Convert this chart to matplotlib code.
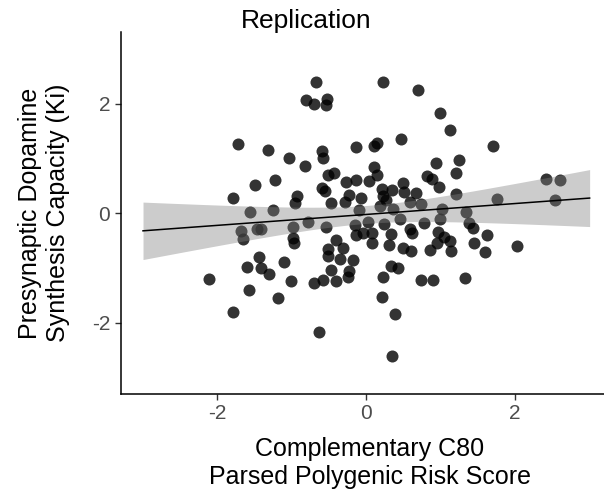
import numpy as np
import matplotlib
matplotlib.use("Agg")
from matplotlib import pyplot as plt

# polygenic risk score (x) vs Ki (y)
prs = [-1.72, -1.32, -1.04, -0.82, -1.49, -1.23, -1.79, -0.93, -0.96, -1.56,
       -1.26, -1.68, -1.66, -1.47, -1.41, -0.98, -0.79, -0.99, -0.97, -1.44,
       -1.60, -1.41, -1.31, -1.10, -2.12, -1.58, -1.01, -0.70, -1.18, -1.79,
       -0.59, -0.58, -0.68, 0.22, 0.69, -0.81, -0.70, -0.53, -0.54, -0.14,
       0.10, 0.14, 0.46, -0.52, -0.44, -0.27, -0.14, 0.04, 0.10, 0.15,
       -0.60, -0.56, -0.47, -0.29, -0.23, -0.07, 0.21, 0.22, 0.26, 0.35,
       0.49, 0.51, 0.67, 0.82, 0.88, 0.98, 0.93, 0.99, 1.12, 1.70,
       1.24, 1.21, 1.21, 2.42, 2.60, 1.75, 2.53, -0.10, 0.18, 0.36,
       0.59, 0.74, 1.02, 1.34, -0.54, -0.15, 0.02, 0.24, 0.45, 0.58,
       0.61, 0.78, 0.99, 1.38, 1.43, 0.96, 1.05, 1.13, 0.95, 0.85,
       1.14, 1.62, 1.44, 1.59, 2.02, 0.74, 0.89, 1.32, -0.14, -0.05,
       0.07, 0.07, 0.33, 0.31, 0.49, 0.60, -0.41, -0.52, -0.32, -0.52,
       -0.36, -0.18, -0.47, -0.23, -0.25, -0.58, -0.41, 0.33, 0.43, 0.22,
       0.21, 0.39, -0.64, 0.34]
ki = [1.26, 1.15, 1.01, 0.86, 0.52, 0.60, 0.27, 0.32, 0.18, 0.02,
      0.05, -0.33, -0.47, -0.30, -0.30, -0.25, -0.17, -0.45, -0.55, -0.81,
      -0.99, -1.01, -1.12, -0.89, -1.21, -1.41, -1.24, -1.28, -1.56, -1.81,
      1.13, 1.00, 2.39, 2.39, 2.24, 2.06, 2.00, 2.09, 1.97, 1.21,
      1.22, 1.28, 1.36, 0.69, 0.74, 0.57, 0.60, 0.59, 0.85, 0.69,
      0.45, 0.41, 0.19, 0.21, 0.33, 0.28, 0.44, 0.31, 0.24, 0.43,
      0.54, 0.38, 0.36, 0.67, 0.62, 0.48, 0.92, 1.83, 1.52, 1.22,
      0.96, 0.73, 0.35, 0.63, 0.60, 0.25, 0.24, 0.06, 0.13, 0.07,
      0.21, 0.17, 0.08, 0.02, -0.26, -0.21, -0.16, -0.20, -0.10, -0.29,
      -0.37, -0.19, -0.10, -0.18, -0.28, -0.34, -0.43, -0.51, -0.54, -0.68,
      -0.69, -0.40, -0.55, -0.71, -0.60, -1.22, -1.22, -1.19, -0.41, -0.37,
      -0.36, -0.54, -0.38, -0.58, -0.64, -0.70, -0.49, -0.65, -0.64, -0.79,
      -0.84, -0.85, -1.04, -1.06, -1.16, -1.23, -1.25, -0.96, -1.01, -1.16,
      -1.54, -1.85, -2.18, -2.62]

x = np.array(prs)
y = np.array(ki)

# linear fit + 95% confidence band, drawn over x in [-3, 3] like geom_smooth(fullrange)
n = len(x)
slope, intercept = np.polyfit(x, y, 1)
resid = y - (intercept + slope * x)
s = np.sqrt(np.sum(resid ** 2) / (n - 2))
sxx = np.sum((x - x.mean()) ** 2)
xs = np.linspace(-3, 3, 100)
fit = intercept + slope * xs
half = 1.98 * s * np.sqrt(1.0 / n + (xs - x.mean()) ** 2 / sxx)

plt.rcParams['font.family'] = ['Liberation Sans', 'DejaVu Sans']
fig = plt.figure(figsize=(6.04, 4.95), dpi=100)
ax = fig.add_axes([0.1998, 0.2046, 0.8134, 0.730])

ax.scatter(x, y, s=75, color='black', alpha=0.8, linewidths=0, zorder=2)
ax.fill_between(xs, fit - half, fit + half, color='grey', alpha=0.4, linewidth=0, zorder=3)
ax.plot(xs, fit, color='black', linewidth=1.1, zorder=4)

ax.set_xlim(-3.3, 3.3)
ax.set_ylim(-3.3, 3.3)
ax.set_xticks([-2, 0, 2])
ax.set_yticks([-2, 0, 2])
ax.set_xticklabels(['-2', '0', '2'])
ax.set_yticklabels(['-2', '0', '2'])
for sp in ['top', 'right']:
    ax.spines[sp].set_visible(False)
for sp in ['left', 'bottom']:
    ax.spines[sp].set_linewidth(1.1)
ax.tick_params(colors='#333333', labelcolor='#4d4d4d', labelsize=15, length=4, width=1)

fig.text(370 / 604, 1 - 463 / 495, 'Complementary C80\nParsed Polygenic Risk Score',
         ha='center', va='center', fontsize=18, multialignment='center', linespacing=1.2)
fig.text(44 / 604, 1 - 213 / 495, 'Presynaptic Dopamine\nSynthesis Capacity (Ki)',
         rotation=90, ha='center', va='center', fontsize=18, multialignment='center',
         linespacing=1.2)
fig.text(306 / 604, 1 - 21 / 495, 'Replication', ha='center', va='center', fontsize=19)

plt.savefig('out.png', dpi=100)
